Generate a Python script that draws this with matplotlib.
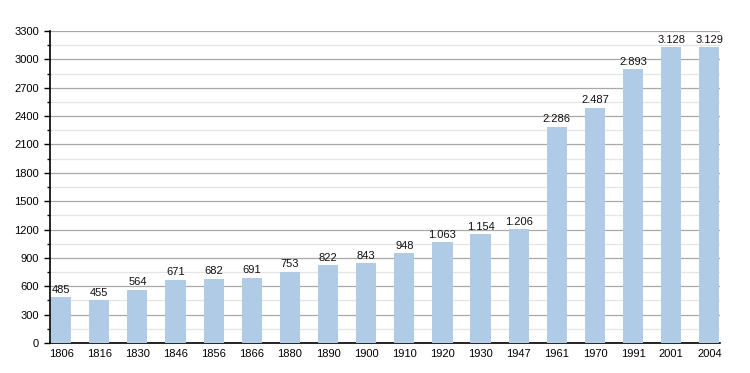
import matplotlib.pyplot as plt
from matplotlib.ticker import MultipleLocator

years = ['1806', '1816', '1830', '1846', '1856', '1866', '1880', '1890', '1900',
         '1910', '1920', '1930', '1947', '1961', '1970', '1991', '2001', '2004']
population = [485, 455, 564, 671, 682, 691, 753, 822, 843,
              948, 1063, 1154, 1206, 2286, 2487, 2893, 3128, 3129]


def fmt(v):
    # thousands separated with a dot
    return f'{v:,}'.replace(',', '.')


plt.rcParams['font.family'] = ['Liberation Sans', 'DejaVu Sans']

fig = plt.figure(figsize=(7.5, 3.73), dpi=100)
ax = fig.add_axes([0.0667, 0.0804, 0.8933, 0.8366])

x = range(len(years))
ax.bar(x, population, width=0.53, color='#b0cbe6', zorder=3)
for i, v in zip(x, population):
    ax.text(i, v + 25, fmt(v), ha='center', va='bottom', fontsize=8, color='#111111', zorder=4)

ax.set_xlim(-0.29, 17.28)
ax.set_ylim(0, 3300)
ax.set_xticks(list(x))
ax.set_xticklabels(years, fontsize=8)
ax.tick_params(axis='x', length=0, pad=4)
ax.yaxis.set_major_locator(MultipleLocator(300))
ax.yaxis.set_minor_locator(MultipleLocator(150))
ax.tick_params(axis='y', which='major', length=4, width=1, labelsize=8, pad=4)
ax.tick_params(axis='y', which='minor', length=2, width=1)
ax.grid(axis='y', which='major', color='#a8a8a8', linewidth=0.9, zorder=0)
ax.grid(axis='y', which='minor', color='#e4e4e4', linewidth=0.9, zorder=0)
for s in ['top', 'right']:
    ax.spines[s].set_visible(False)
ax.spines['left'].set_linewidth(1.2)
ax.spines['bottom'].set_linewidth(1.2)

fig.savefig('out.png', dpi=100)
